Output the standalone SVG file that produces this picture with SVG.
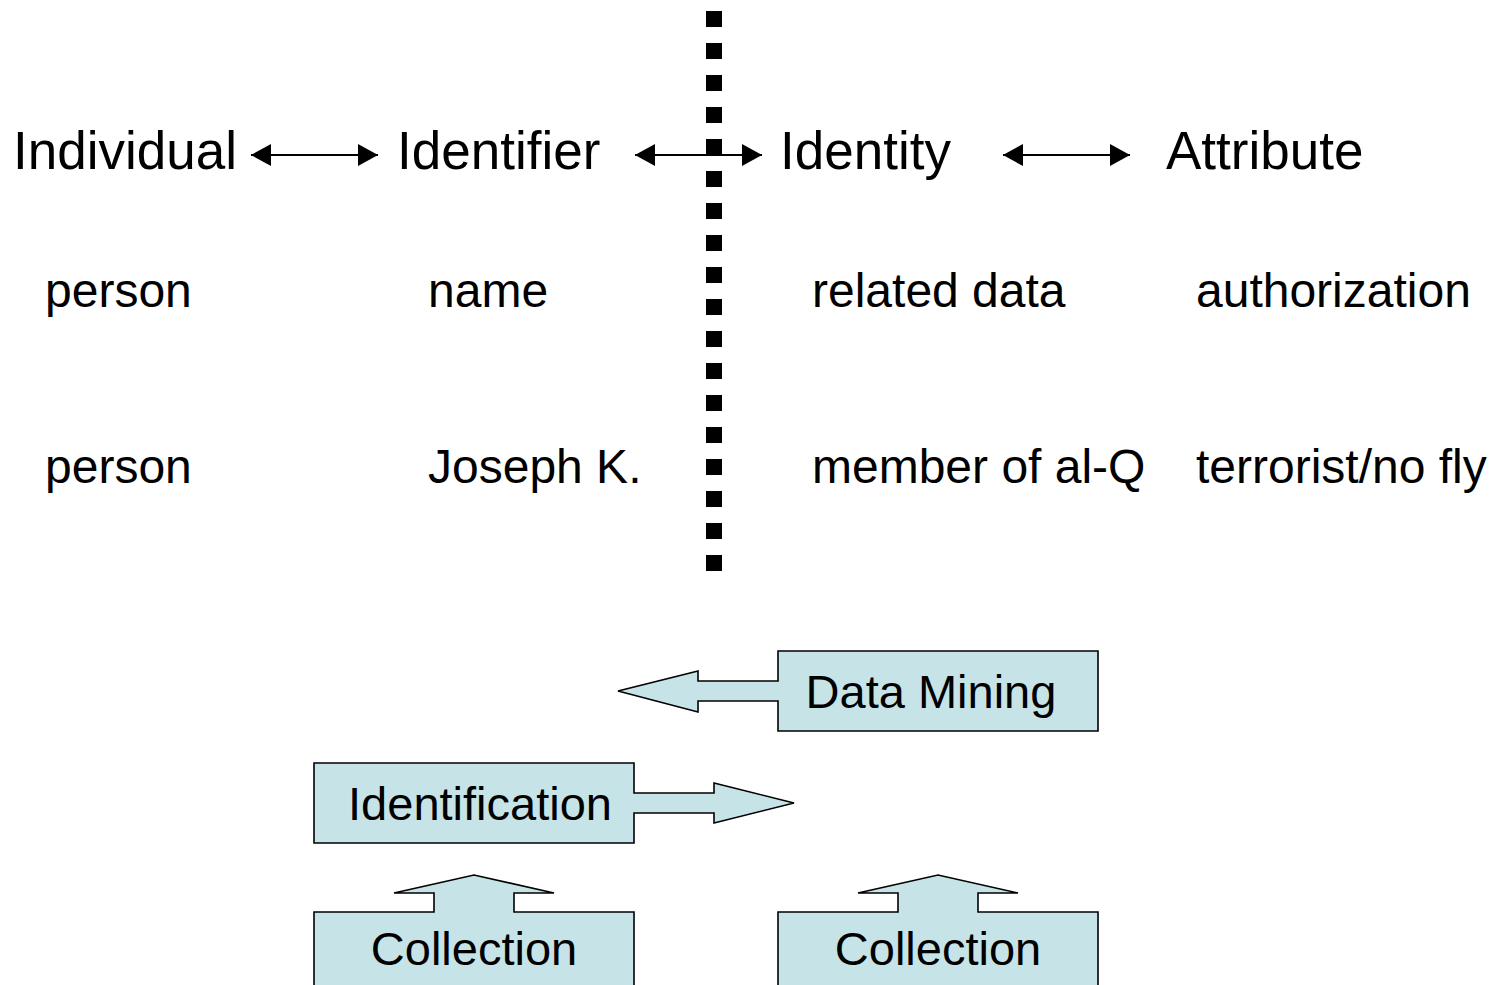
<svg xmlns="http://www.w3.org/2000/svg" width="1495" height="985" viewBox="0 0 1495 985">
  <defs>
    <style>
      .t { font-family: "Liberation Sans", Arial, sans-serif; fill: #000; }
      .title { font-size: 53px; }
      .row { font-size: 48px; }
      .box { font-size: 47px; text-anchor: middle; }
      .shape { fill: #c6e4e8; stroke: #000; stroke-width: 1.6; }
      .conn { stroke: #000; stroke-width: 2; fill: none; marker-start: url(#ah); marker-end: url(#ah); }
    </style>
    <marker id="ah" viewBox="0 0 20 22" refX="20" refY="11" markerWidth="20" markerHeight="22" markerUnits="userSpaceOnUse" orient="auto-start-reverse">
      <path d="M0,0 L20,11 L0,22 Z" fill="#000"/>
    </marker>
  </defs>
  <rect width="1495" height="985" fill="#fff"/>

  <g id="connectors">
    <line class="conn" x1="251" y1="155" x2="378" y2="155"/>
    <line class="conn" x1="635" y1="155" x2="762" y2="155"/>
    <line class="conn" x1="1003" y1="155" x2="1130" y2="155"/>
  </g>

  <g id="divider">
    <line x1="714" y1="11" x2="714" y2="571" stroke="#000" stroke-width="16" stroke-dasharray="16 16"/>
  </g>

  <g id="node-individual"><text class="t title" x="13" y="169">Individual</text></g>
  <g id="node-identifier"><text class="t title" x="397" y="169">Identifier</text></g>
  <g id="node-identity"><text class="t title" x="780" y="169">Identity</text></g>
  <g id="node-attribute"><text class="t title" x="1166" y="169">Attribute</text></g>

  <g id="row1">
    <text class="t row" x="45" y="307">person</text>
    <text class="t row" x="428" y="307">name</text>
    <text class="t row" x="812" y="307">related data</text>
    <text class="t row" x="1196" y="307">authorization</text>
  </g>
  <g id="row2">
    <text class="t row" x="45" y="483">person</text>
    <text class="t row" x="428" y="483">Joseph K.</text>
    <text class="t row" x="812" y="483">member of al-Q</text>
    <text class="t row" x="1196" y="483">terrorist/no fly</text>
  </g>

  <g id="node-data-mining">
    <path class="shape" d="M778,651 H1098 V731 H778 V701 H698 V712 L618,691 L698,671 V681 H778 Z"/>
    <text class="t box" x="931" y="708">Data Mining</text>
  </g>

  <g id="node-identification">
    <path class="shape" d="M314,763 H634 V793 H714 V783 L794,803 L714,823 V813 H634 V843 H314 Z"/>
    <text class="t box" x="480" y="820">Identification</text>
  </g>

  <g id="node-collection-1">
    <path class="shape" d="M314,912 H434 V893 H394 L474,875 L554,893 H514 V912 H634 V995 H314 Z"/>
    <text class="t box" x="474" y="965">Collection</text>
  </g>

  <g id="node-collection-2">
    <path class="shape" d="M778,912 H898 V893 H858 L938,875 L1018,893 H978 V912 H1098 V995 H778 Z"/>
    <text class="t box" x="938" y="965">Collection</text>
  </g>
</svg>
